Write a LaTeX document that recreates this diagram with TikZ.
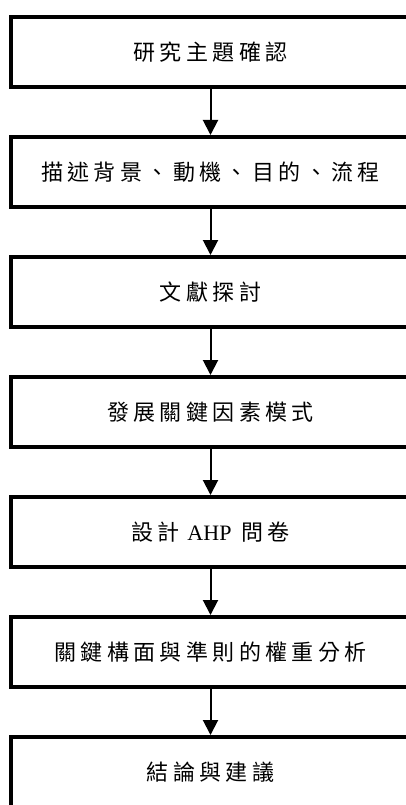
\documentclass[tikz,border=0pt]{standalone}
\usepackage{fontspec}
\usetikzlibrary{arrows.meta}
\newfontfamily\cjk[LetterSpace=20]{Noto Sans CJK TC}
\newfontfamily\latinserif{Liberation Serif}
\begin{document}
\begin{tikzpicture}[x=1pt,y=-1pt,
  stepbox/.style={draw=black,line width=4pt,rectangle,minimum width=399pt,minimum height=70pt,inner sep=0pt,
    font=\cjk\fontsize{22}{26}\selectfont},
  flowarrow/.style={line width=2pt,-{Triangle[width=15pt,length=15pt]}}]
\useasboundingbox (0,0) rectangle (406,805);
\clip (0,0) rectangle (406,805);
\fill[white] (0,0) rectangle (406,805);
\node[stepbox] (b1) at (210.5,52) {研究主題確認};
\node[stepbox] (b2) at (210.5,172) {描述背景、動機、目的、流程};
\node[stepbox] (b3) at (210.5,292) {文獻探討};
\node[stepbox] (b4) at (210.5,412) {發展關鍵因素模式};
\node[stepbox] (b5) at (210.5,532) {設計\hspace{8pt}{\latinserif\fontsize{22}{26}\selectfont AHP}\hspace{10pt}問卷};
\node[stepbox] (b6) at (210.5,652) {關鍵構面與準則的權重分析};
\node[stepbox] (b7) at (210.5,772) {結論與建議};
\foreach \a/\b in {b1/b2,b2/b3,b3/b4,b4/b5,b5/b6,b6/b7}
  \draw[flowarrow] (\a.south) -- (\b.north);
\end{tikzpicture}
\end{document}
